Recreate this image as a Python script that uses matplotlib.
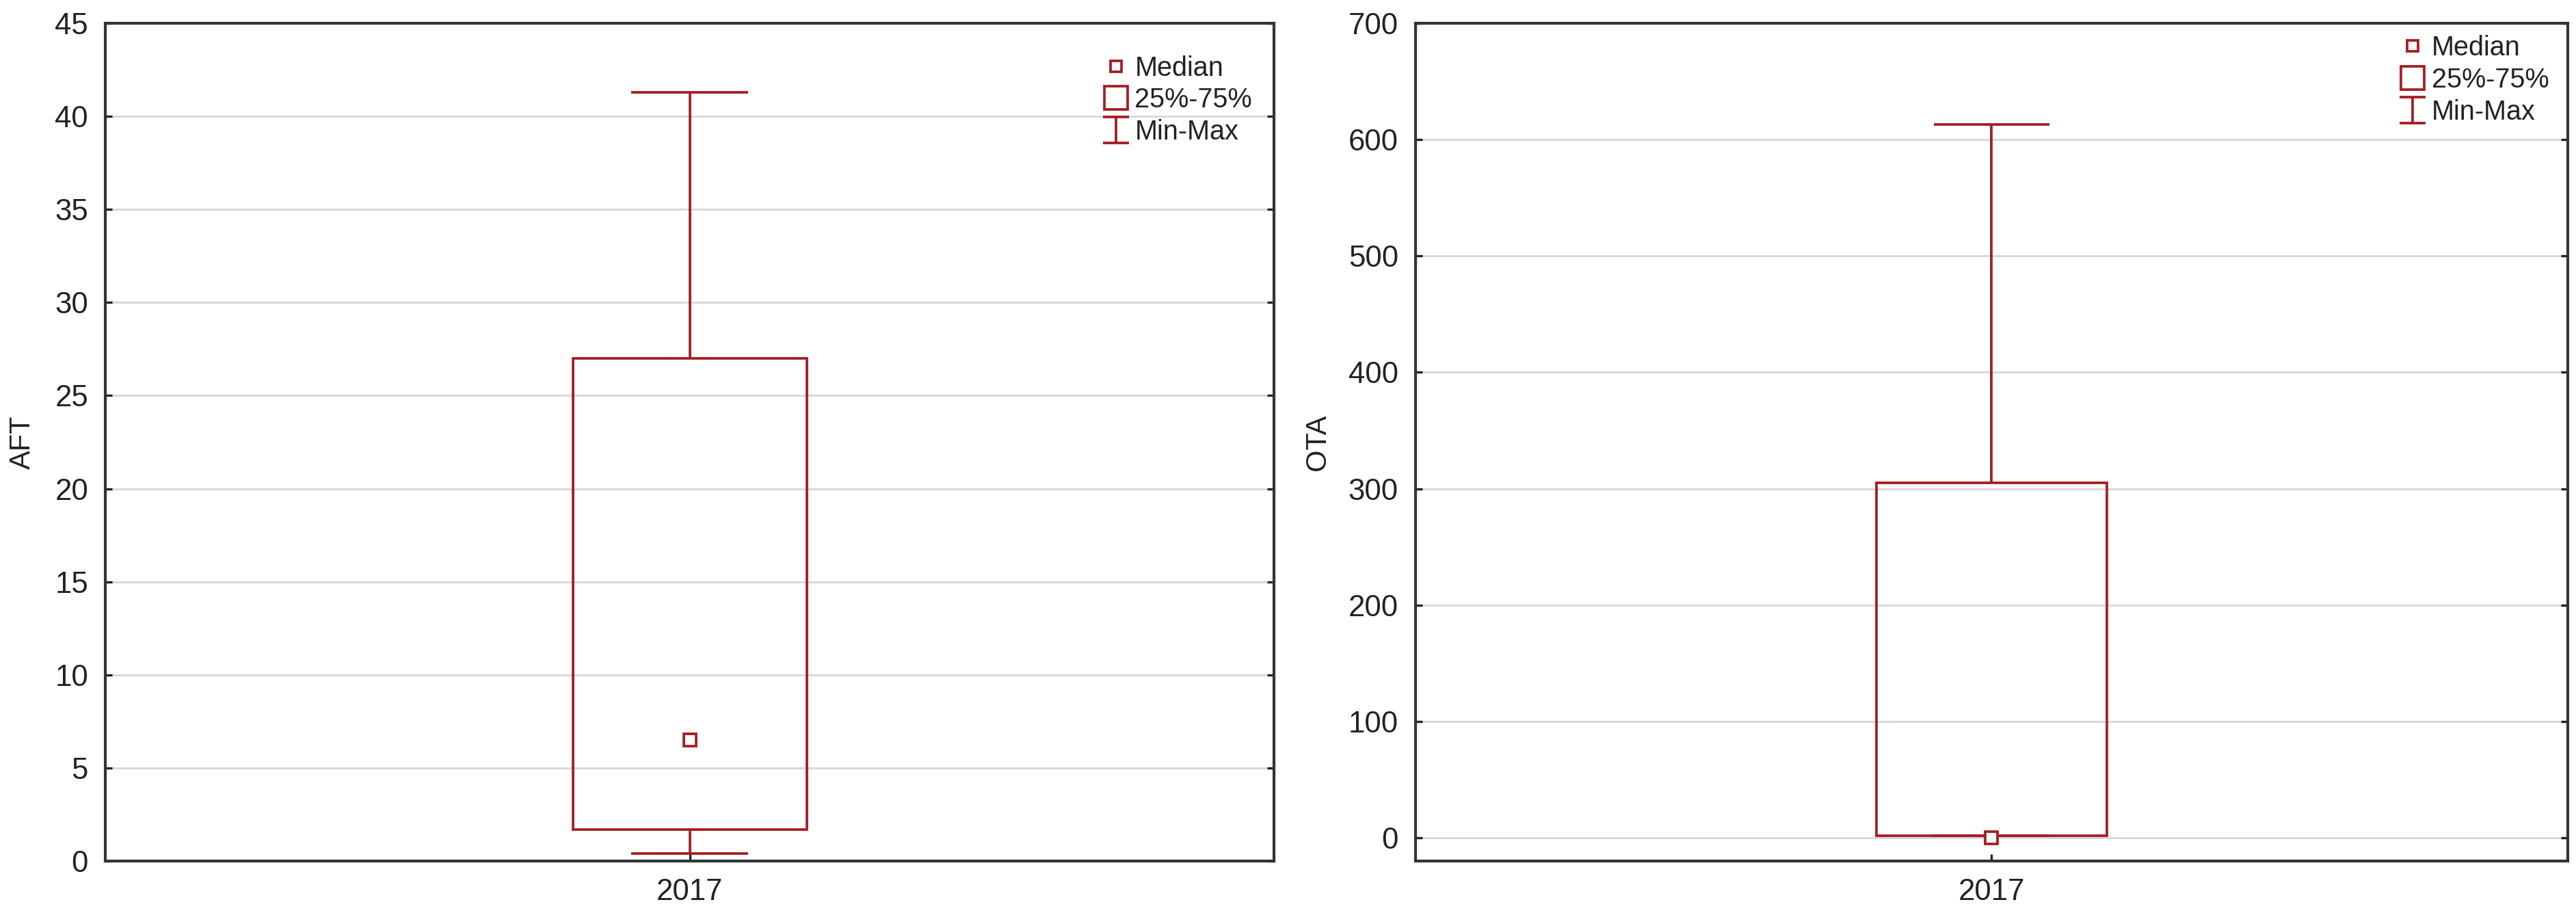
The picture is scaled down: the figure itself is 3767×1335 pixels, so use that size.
import numpy as np
import matplotlib
matplotlib.use("Agg")
import matplotlib.pyplot as plt
from matplotlib.lines import Line2D
from matplotlib.path import Path

plt.rcParams['font.family'] = ['Liberation Sans', 'DejaVu Sans']

# data
year = ["2017"]
aft_min, aft_q1, aft_med, aft_q3, aft_max = [0.4], [1.7], [6.5], [27.0], [41.3]
ota_min, ota_q1, ota_med, ota_q3, ota_max = [2.0], [2.0], [0.0], [305.0], [613.0]

red = "#a31d22"
dark = "#222222"

fig = plt.figure(figsize=(3767/300, 1335/300), dpi=300)
ax1 = fig.add_axes([0.0409, 0.0569, 0.4537, 0.9176])
ax2 = fig.add_axes([0.5495, 0.0569, 0.4473, 0.9176])

# I-beam marker for the legend
ibeam = Path([(-0.5, 0.5), (0.5, 0.5), (0, 0.5), (0, -0.5), (-0.5, -0.5), (0.5, -0.5)],
             [Path.MOVETO, Path.LINETO, Path.MOVETO, Path.LINETO, Path.MOVETO, Path.LINETO])


def draw_box(ax, mn, q1, med, q3, mx, ylabel, ylim, yticks, leg_anchor, label_x):
    x = np.arange(1, len(year) + 1)
    ax.bar(x, np.array(q3) - np.array(q1), bottom=q1, width=0.2, fill=False,
           edgecolor=red, linewidth=0.9, zorder=3)
    ax.vlines(x, q3, mx, color=red, linewidth=0.9, zorder=3)
    ax.vlines(x, mn, q1, color=red, linewidth=0.9, zorder=3)
    ax.hlines(mx, x - 0.05, x + 0.05, color=red, linewidth=0.9, zorder=3)
    ax.hlines(mn, x - 0.05, x + 0.05, color=red, linewidth=0.9, zorder=3)
    ax.plot(x, med, 's', ms=4.5, mfc='white', mec=red, mew=0.9, zorder=4)

    ax.set_xlim(0.5, 1.5)
    ax.set_ylim(*ylim)
    ax.set_xticks(x)
    ax.set_xticklabels(year)
    ax.set_yticks(yticks)
    ax.yaxis.grid(True, color="#d8d8d8", linewidth=0.7, zorder=0)
    ax.set_axisbelow(True)
    ax.set_ylabel(ylabel, fontsize=10, color=dark)
    ax.yaxis.set_label_coords(label_x, 0.5)
    ax.tick_params(axis='both', direction='in', length=2.5, width=0.8,
                   labelsize=10.5, labelcolor=dark, color=dark, pad=6)
    ax.tick_params(axis='y', right=True)
    for s in ax.spines.values():
        s.set_color("#333333")
        s.set_linewidth(1.0)

    handles = [
        Line2D([], [], ls='none', marker='s', ms=4, mfc='white', mec=red, mew=0.9),
        Line2D([], [], ls='none', marker='s', ms=8, mfc='white', mec=red, mew=0.9),
        Line2D([], [], ls='none', marker=ibeam, ms=9, mec=red, mew=0.9),
    ]
    ax.legend(handles, ["Median", "25%-75%", "Min-Max"], loc='upper left',
              bbox_to_anchor=leg_anchor, frameon=False, fontsize=9.5,
              handlelength=0.8, handletextpad=0.3, labelspacing=0.22,
              borderaxespad=0, labelcolor=dark)


draw_box(ax1, aft_min, aft_q1, aft_med, aft_q3, aft_max, "AFT", (0, 45),
         np.arange(0, 46, 5), (0.846, 0.975), -0.059)
draw_box(ax2, ota_min, ota_q1, ota_med, ota_q3, ota_max, "OTA", (-20, 700),
         np.arange(0, 701, 100), (0.8465, 0.999), -0.073)

fig.savefig("out.png", dpi=300)
